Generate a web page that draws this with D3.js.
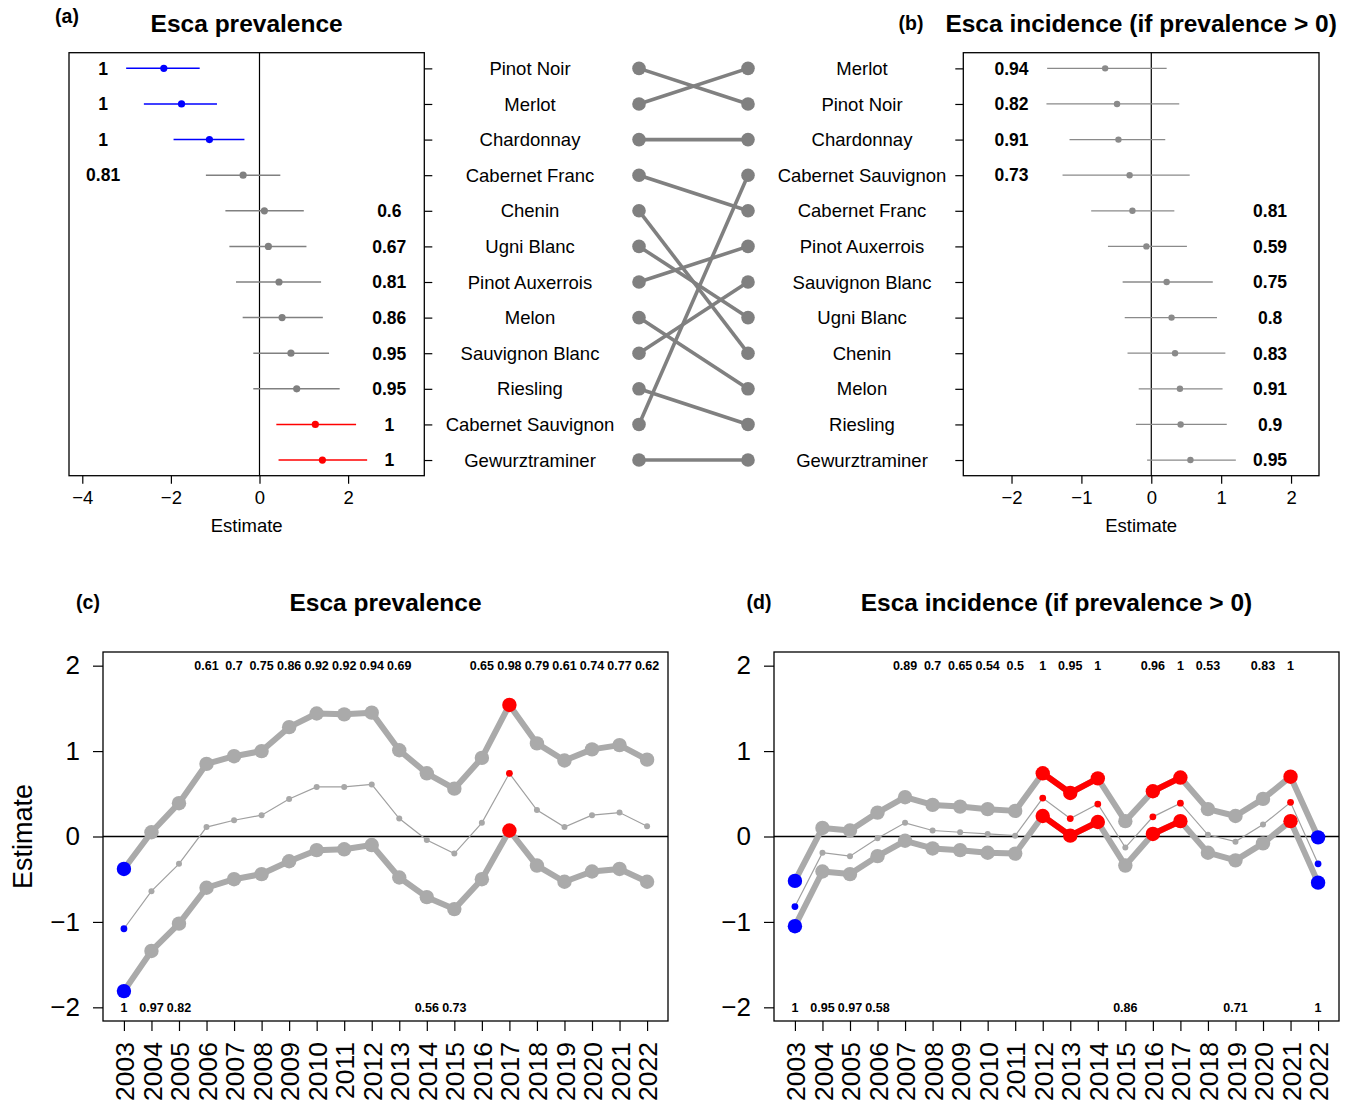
<!DOCTYPE html>
<html>
<head>
<meta charset="utf-8">
<script src="https://cdn.jsdelivr.net/npm/d3@7"></script>
<style>
body { margin: 0; background: #fff; }
svg { display: block; font-family: "Liberation Sans", Arial, Helvetica, sans-serif; }
</style>
</head>
<body>
<svg id="fig" width="1350" height="1107"></svg>
<script>
// ---- panel (a) : prevalence by variety
var namesA = ["Pinot Noir", "Merlot", "Chardonnay", "Cabernet Franc", "Chenin", "Ugni Blanc",
  "Pinot Auxerrois", "Melon", "Sauvignon Blanc", "Riesling", "Cabernet Sauvignon", "Gewurztraminer"];
var estA = [-2.16, -1.76, -1.13, -0.37, 0.11, 0.20, 0.44, 0.51, 0.71, 0.84, 1.26, 1.42];
var loA = [-3.01, -2.61, -1.94, -1.21, -0.77, -0.68, -0.53, -0.38, -0.14, -0.14, 0.38, 0.43];
var hiA = [-1.35, -0.96, -0.34, 0.47, 1.00, 1.06, 1.39, 1.43, 1.57, 1.81, 2.18, 2.43];
var probA = ["1", "1", "1", "0.81", "0.6", "0.67", "0.81", "0.86", "0.95", "0.95", "1", "1"];

// ---- panel (b) : incidence by variety
var namesB = ["Merlot", "Pinot Noir", "Chardonnay", "Cabernet Sauvignon", "Cabernet Franc", "Pinot Auxerrois",
  "Sauvignon Blanc", "Ugni Blanc", "Chenin", "Melon", "Riesling", "Gewurztraminer"];
var estB = [-0.66, -0.49, -0.47, -0.31, -0.27, -0.07, 0.22, 0.29, 0.34, 0.41, 0.42, 0.56];
var loB = [-1.49, -1.50, -1.17, -1.27, -0.86, -0.62, -0.41, -0.38, -0.34, -0.18, -0.22, -0.06];
var hiB = [0.22, 0.40, 0.20, 0.55, 0.33, 0.51, 0.88, 0.94, 1.06, 1.02, 1.08, 1.21];
var probB = ["0.94", "0.82", "0.91", "0.73", "0.81", "0.59", "0.75", "0.8", "0.83", "0.91", "0.9", "0.95"];

// ---- panels (c) and (d) : by year
var years = [2003, 2004, 2005, 2006, 2007, 2008, 2009, 2010, 2011, 2012,
  2013, 2014, 2015, 2016, 2017, 2018, 2019, 2020, 2021, 2022];

var estC = [-1.08, -0.64, -0.32, 0.11, 0.19, 0.25, 0.44, 0.58, 0.58, 0.61,
  0.21, -0.04, -0.20, 0.16, 0.74, 0.31, 0.11, 0.25, 0.28, 0.12];
var loC = [-1.81, -1.34, -1.02, -0.60, -0.50, -0.44, -0.29, -0.16, -0.15, -0.10,
  -0.48, -0.71, -0.85, -0.50, 0.07, -0.34, -0.53, -0.41, -0.38, -0.53];
var hiC = [-0.38, 0.05, 0.39, 0.85, 0.94, 1.00, 1.28, 1.44, 1.43, 1.45,
  1.01, 0.74, 0.56, 0.92, 1.54, 1.09, 0.89, 1.02, 1.07, 0.90];
var probC = ["1", "0.97", "0.82", "0.61", "0.7", "0.75", "0.86", "0.92", "0.92", "0.94",
  "0.69", "0.56", "0.73", "0.65", "0.98", "0.79", "0.61", "0.74", "0.77", "0.62"];

var estD = [-0.82, -0.19, -0.23, -0.02, 0.16, 0.07, 0.05, 0.03, 0.01, 0.45,
  0.21, 0.38, -0.13, 0.23, 0.39, 0.02, -0.06, 0.14, 0.40, -0.32];
var loD = [-1.05, -0.41, -0.44, -0.23, -0.05, -0.14, -0.16, -0.19, -0.20, 0.24,
  0.01, 0.17, -0.34, 0.03, 0.18, -0.19, -0.28, -0.08, 0.18, -0.54];
var hiD = [-0.52, 0.10, 0.07, 0.28, 0.46, 0.37, 0.35, 0.32, 0.30, 0.74,
  0.51, 0.68, 0.18, 0.53, 0.69, 0.32, 0.24, 0.44, 0.70, -0.01];
var probD = ["1", "0.95", "0.97", "0.58", "0.89", "0.7", "0.65", "0.54", "0.5", "1",
  "0.95", "1", "0.86", "0.96", "1", "0.53", "0.71", "0.83", "1", "1"];

var svg = d3.select("#fig");
var RED = "#ff0000", BLUE = "#0000ff";
var intFmt = d3.format("d");

function sigColor(lo, hi, base) {
  if (lo > 0) return RED;
  if (hi < 0) return BLUE;
  return base;
}

function styleAxis(g, size) {
  g.select(".domain").remove();
  g.selectAll(".tick line").attr("stroke", "#000").attr("stroke-width", 1.2);
  g.selectAll(".tick text").attr("fill", "#000").style("font-size", size + "px")
    .style("font-family", "'Liberation Sans', Arial, sans-serif");
}

// rows are shared by (a), the bump chart and (b)
var top0 = 52.7, bot0 = 475.7;
var rowY = d3.scaleLinear().domain([0.56, 12.44]).range([top0, bot0]);

function forest(o) {
  var x = d3.scaleLinear().domain(o.domain).range([o.x0, o.x1]);
  var g = svg.append("g");

  g.append("line")
    .attr("x1", x(0)).attr("x2", x(0)).attr("y1", top0).attr("y2", bot0)
    .attr("stroke", "#000").attr("stroke-width", 1.2);

  var rows = g.selectAll(".row").data(o.est).enter().append("g");
  rows.append("line")
    .attr("x1", function (d, i) { return x(o.lo[i]); })
    .attr("x2", function (d, i) { return x(o.hi[i]); })
    .attr("y1", function (d, i) { return rowY(i + 1); })
    .attr("y2", function (d, i) { return rowY(i + 1); })
    .attr("stroke", function (d, i) { return sigColor(o.lo[i], o.hi[i], o.grey); })
    .attr("stroke-width", o.lw);
  rows.append("circle")
    .attr("cx", function (d) { return x(d); })
    .attr("cy", function (d, i) { return rowY(i + 1); })
    .attr("r", o.r)
    .attr("fill", function (d, i) { return sigColor(o.lo[i], o.hi[i], o.grey); });
  rows.append("text")
    .attr("x", function (d, i) { return i < 4 ? x(o.labL) : x(o.labR); })
    .attr("y", function (d, i) { return rowY(i + 1); })
    .attr("dy", "0.36em")
    .attr("text-anchor", "middle")
    .style("font-size", "17.5px").style("font-weight", "bold")
    .text(function (d, i) { return o.prob[i]; });

  g.append("rect")
    .attr("x", o.x0).attr("y", top0).attr("width", o.x1 - o.x0).attr("height", bot0 - top0)
    .attr("fill", "none").attr("stroke", "#000").attr("stroke-width", 1.3);

  var ax = g.append("g").attr("transform", "translate(0," + bot0 + ")")
    .call(d3.axisBottom(x).tickValues(o.ticks).tickFormat(intFmt).tickSize(8).tickPadding(7));
  styleAxis(ax, 18.5);

  var side = o.tickRight ? d3.axisRight(rowY) : d3.axisLeft(rowY);
  var ay = g.append("g").attr("transform", "translate(" + (o.tickRight ? o.x1 : o.x0) + ",0)")
    .call(side.tickValues(d3.range(1, 13)).tickSize(8).tickFormat(""));
  styleAxis(ay, 10);

  var cx = (o.x0 + o.x1) / 2;
  g.append("text").attr("x", cx).attr("y", 532).attr("text-anchor", "middle")
    .style("font-size", "18.5px").text("Estimate");
  g.append("text").attr("x", cx).attr("y", 31.5).attr("text-anchor", "middle")
    .style("font-size", "24.5px").style("font-weight", "bold").text(o.title);
  g.append("text").attr("x", o.tagX).attr("y", o.tagY).attr("text-anchor", "middle")
    .style("font-size", "19.5px").style("font-weight", "bold").text(o.tag);
}

forest({
  x0: 69, x1: 424.3, domain: [-4.3, 3.72], ticks: [-4, -2, 0, 2],
  est: estA, lo: loA, hi: hiA, prob: probA, labL: -3.53, labR: 2.93,
  grey: "#808080", lw: 1.5, r: 3.6, tickRight: true,
  title: "Esca prevalence", tag: "(a)", tagX: 67, tagY: 23
});
forest({
  x0: 963.3, x1: 1319, domain: [-2.69, 2.40], ticks: [-2, -1, 0, 1, 2],
  est: estB, lo: loB, hi: hiB, prob: probB, labL: -2.0, labR: 1.70,
  grey: "#8a8a8a", lw: 1.3, r: 3.2, tickRight: false,
  title: "Esca incidence (if prevalence > 0)", tag: "(b)", tagX: 911, tagY: 30
});

// ---- bump chart between (a) and (b)
var bx0 = 639, bx1 = 748;
var bump = svg.append("g");
namesA.forEach(function (n, i) {
  var j = namesB.indexOf(n);
  bump.append("line")
    .attr("x1", bx0).attr("y1", rowY(i + 1)).attr("x2", bx1).attr("y2", rowY(j + 1))
    .attr("stroke", "#808080").attr("stroke-width", 3.6);
});
namesA.forEach(function (n, i) {
  bump.append("circle").attr("cx", bx0).attr("cy", rowY(i + 1)).attr("r", 6.8).attr("fill", "#808080");
  bump.append("circle").attr("cx", bx1).attr("cy", rowY(i + 1)).attr("r", 6.8).attr("fill", "#808080");
});
bump.selectAll(".nl").data(namesA).enter().append("text")
  .attr("x", 530).attr("y", function (d, i) { return rowY(i + 1); }).attr("dy", "0.36em")
  .attr("text-anchor", "middle").style("font-size", "18.5px").text(function (d) { return d; });
bump.selectAll(".nr").data(namesB).enter().append("text")
  .attr("x", 862).attr("y", function (d, i) { return rowY(i + 1); }).attr("dy", "0.36em")
  .attr("text-anchor", "middle").style("font-size", "18.5px").text(function (d) { return d; });

// ---- panels (c) and (d)
var top1 = 652, bot1 = 1021;
var y = d3.scaleLinear().domain([-2.16, 2.16]).range([bot1, top1]);

function trend(o) {
  var x = d3.scaleLinear().domain([2002.24, 2022.76]).range([o.x0, o.x1]);
  var g = svg.append("g");
  var col = years.map(function (yr, i) { return sigColor(o.lo[i], o.hi[i], null); });
  var thick = "#aaaaaa";

  g.append("line").attr("x1", o.x0).attr("x2", o.x1).attr("y1", y(0)).attr("y2", y(0))
    .attr("stroke", "#000").attr("stroke-width", 1.3);

  var line = d3.line().x(function (d, i) { return x(years[i]); }).y(function (d) { return y(d); });

  [o.hi, o.lo].forEach(function (arr) {
    g.append("path").datum(arr).attr("d", line).attr("fill", "none")
      .attr("stroke", thick).attr("stroke-width", 6).attr("stroke-linejoin", "round");
    for (var i = 0; i < years.length - 1; i++) {
      if (col[i] && col[i] === col[i + 1]) {
        g.append("line").attr("x1", x(years[i])).attr("y1", y(arr[i]))
          .attr("x2", x(years[i + 1])).attr("y2", y(arr[i + 1]))
          .attr("stroke", col[i]).attr("stroke-width", 6).attr("stroke-linecap", "round");
      }
    }
  });
  g.append("path").datum(o.est).attr("d", line).attr("fill", "none")
    .attr("stroke", "#a0a0a0").attr("stroke-width", 1.2);

  [o.hi, o.lo].forEach(function (arr) {
    g.selectAll(null).data(arr).enter().append("circle")
      .attr("cx", function (d, i) { return x(years[i]); })
      .attr("cy", function (d) { return y(d); })
      .attr("r", 7.2)
      .attr("fill", function (d, i) { return col[i] || thick; });
  });
  g.selectAll(null).data(o.est).enter().append("circle")
    .attr("cx", function (d, i) { return x(years[i]); })
    .attr("cy", function (d) { return y(d); })
    .attr("r", function (d, i) { return col[i] ? 3.4 : 3; })
    .attr("fill", function (d, i) { return col[i] || "#a8a8a8"; });

  g.selectAll(null).data(o.prob).enter().append("text")
    .attr("x", function (d, i) { return x(years[i]); })
    .attr("y", function (d, i) { return o.est[i] > 0 ? y(2) : y(-2); })
    .attr("dy", "0.36em").attr("text-anchor", "middle")
    .style("font-size", "12.5px").style("font-weight", "bold")
    .text(function (d) { return d; });

  g.append("rect").attr("x", o.x0).attr("y", top1).attr("width", o.x1 - o.x0).attr("height", bot1 - top1)
    .attr("fill", "none").attr("stroke", "#000").attr("stroke-width", 1.3);

  var ay = g.append("g").attr("transform", "translate(" + o.x0 + ",0)")
    .call(d3.axisLeft(y).tickValues([-2, -1, 0, 1, 2]).tickFormat(intFmt).tickSize(10).tickPadding(13));
  styleAxis(ay, 26);

  var ax = g.append("g").attr("transform", "translate(0," + bot1 + ")")
    .call(d3.axisBottom(x).tickValues(years).tickSize(10).tickFormat(intFmt));
  styleAxis(ax, 26.5);
  ax.selectAll(".tick text")
    .attr("transform", "rotate(-90)").attr("text-anchor", "end")
    .attr("x", -21).attr("y", 0).attr("dy", "0.36em");

  var cx = (o.x0 + o.x1) / 2;
  g.append("text").attr("x", cx).attr("y", 611).attr("text-anchor", "middle")
    .style("font-size", "24.5px").style("font-weight", "bold").text(o.title);
  g.append("text").attr("x", o.tagX).attr("y", 609).attr("text-anchor", "middle")
    .style("font-size", "19.5px").style("font-weight", "bold").text(o.tag);
}

trend({ x0: 103, x1: 668, est: estC, lo: loC, hi: hiC, prob: probC,
  title: "Esca prevalence", tag: "(c)", tagX: 88 });
trend({ x0: 774, x1: 1339, est: estD, lo: loD, hi: hiD, prob: probD,
  title: "Esca incidence (if prevalence > 0)", tag: "(d)", tagX: 759 });

svg.append("text").attr("transform", "translate(22," + y(0) + ") rotate(-90)")
  .attr("text-anchor", "middle").attr("dy", "0.36em")
  .style("font-size", "27px").text("Estimate");
</script>
</body>
</html>
